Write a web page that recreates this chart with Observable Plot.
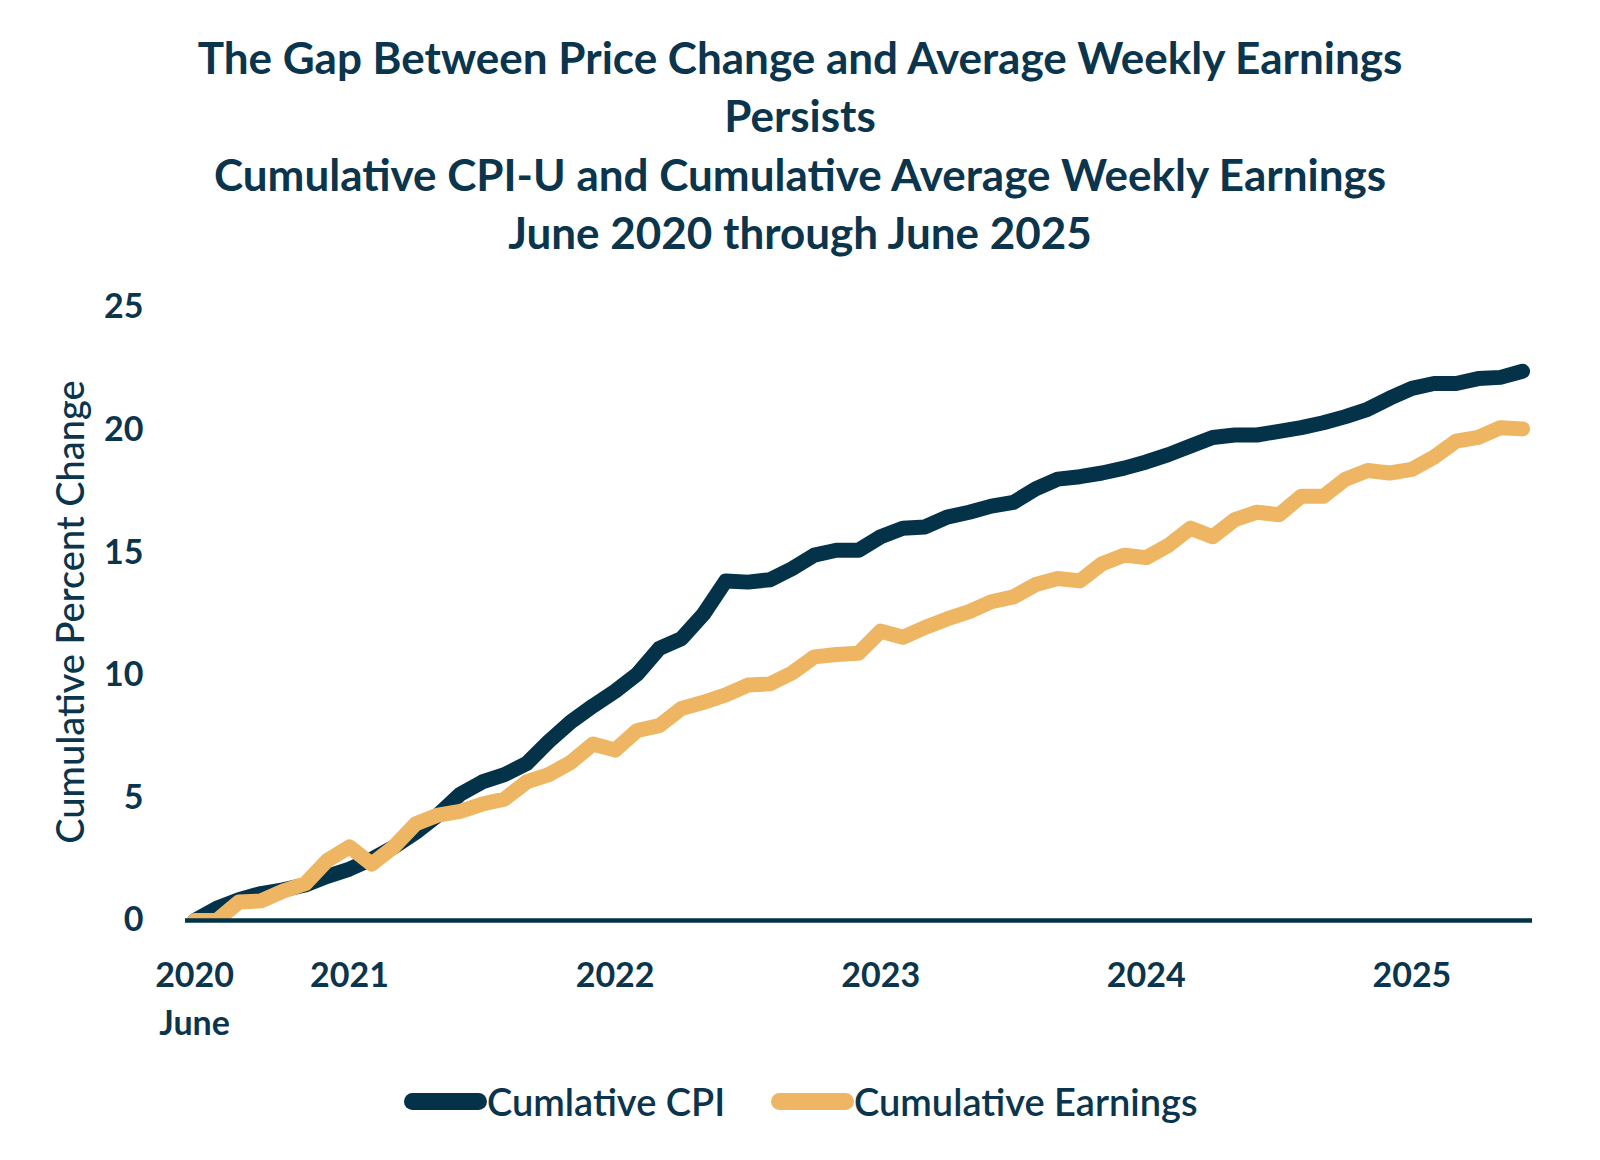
<!DOCTYPE html>
<html>
<head>
<meta charset="utf-8">
<script src="https://cdn.jsdelivr.net/npm/d3@7"></script>
<script src="https://cdn.jsdelivr.net/npm/@observablehq/plot@0.6"></script>
<style>
  body { margin: 0; background: #ffffff; }
  #wrap { position: relative; width: 1600px; height: 1160px; font-family: Lato, "Open Sans", sans-serif; color: #0b344d; overflow: hidden; }
  #title { position: absolute; top: 28px; left: 0; width: 1600px; text-align: center; font-weight: 700; font-size: 44px; line-height: 58.3px; }
  #chart { position: absolute; top: 270px; left: 0; }
  #ylabel { position: absolute; left: 69px; top: 612px; transform: translate(-50%, -50%) rotate(-90deg); white-space: nowrap; font-size: 38px; font-weight: 500; }
  .leg { position: absolute; top: 1079px; display: flex; align-items: center; font-size: 38px; font-weight: 600; white-space: nowrap; height: 44px; }
  .sw { display: inline-block; width: 83px; height: 17px; border-radius: 9px; margin-right: 0px; }
</style>
</head>
<body>
<div id="wrap">
  <div id="title"></div>
  <div id="ylabel"></div>
  <div id="chart"></div>
  <div id="legend"></div>
</div>
<script>
// ---- Data ----
const titleLines = [
  "The Gap Between Price Change and Average Weekly Earnings",
  "Persists",
  "Cumulative CPI-U and Cumulative Average Weekly Earnings",
  "June 2020 through June 2025"
];
const yAxisTitle = "Cumulative Percent Change";
const seriesNames = ["Cumlative CPI", "Cumulative Earnings"];
const seriesColors = ["#033249", "#eeb662"];

// Monthly categories, June 2020 .. June 2025
const months = d3.utcMonth.range(new Date(Date.UTC(2020, 5, 1)), new Date(Date.UTC(2025, 6, 1)));

const cumulativeCPI = [
  0, 0.5, 0.85, 1.1, 1.25, 1.45, 1.8,
  2.1, 2.5, 3.0, 3.6, 4.3, 5.15, 5.65, 5.95, 6.4, 7.3, 8.1, 8.75,
  9.35, 10.05, 11.1, 11.5, 12.5, 13.85, 13.8, 13.9, 14.35, 14.9, 15.1, 15.1,
  15.65, 16.0, 16.05, 16.45, 16.65, 16.9, 17.05, 17.6, 18.0, 18.1, 18.25, 18.45,
  18.7, 19.0, 19.35, 19.7, 19.8, 19.8, 19.95, 20.1, 20.3, 20.55, 20.85, 21.3,
  21.7, 21.9, 21.9, 22.1, 22.15, 22.4
];
const cumulativeEarnings = [
  0, 0, 0.75, 0.8, 1.2, 1.5, 2.45,
  3.0, 2.3, 3.0, 3.95, 4.3, 4.45, 4.75, 4.95, 5.65, 5.95, 6.45, 7.2,
  6.95, 7.75, 7.95, 8.65, 8.9, 9.2, 9.6, 9.65, 10.1, 10.75, 10.85, 10.9,
  11.8, 11.55, 11.95, 12.3, 12.6, 13.0, 13.2, 13.7, 13.95, 13.85, 14.55, 14.9,
  14.8, 15.3, 16.0, 15.65, 16.35, 16.65, 16.55, 17.3, 17.3, 18.0, 18.35, 18.25,
  18.4, 18.9, 19.55, 19.7, 20.1, 20.05
];

const yTicks = [0, 5, 10, 15, 20, 25];
const xTickMonths = ["2020-06", "2021-01", "2022-01", "2023-01", "2024-01", "2025-01"];
const xTickLabels = ["2020\nJune", "2021", "2022", "2023", "2024", "2025"];

// ---- Build table ----
const fmtMonth = d3.utcFormat("%Y-%m");
const monthKeys = months.map(fmtMonth);
const rows = months.map((m, i) => ({ i, month: m, cpi: cumulativeCPI[i], earn: cumulativeEarnings[i] }));
const tickIndex = xTickMonths.map(k => monthKeys.indexOf(k));
const tickLabelByIndex = new Map(tickIndex.map((idx, j) => [idx, xTickLabels[j]]));

// ---- Text ----
document.getElementById("title").innerHTML = titleLines.map(t => `<div>${t}</div>`).join("");
document.getElementById("ylabel").textContent = yAxisTitle;
const legendLefts = [404, 771];
document.getElementById("legend").innerHTML = seriesNames.map((n, k) =>
  `<div class="leg" style="left:${legendLefts[k]}px"><span class="sw" style="background:${seriesColors[k]}"></span><span>${n}</span></div>`
).join("");

// ---- Chart ----
const navy = "#0b344d";
const chart = Plot.plot({
  width: 1600,
  height: 760,
  marginLeft: 185,
  marginRight: 68,
  marginTop: 37,
  marginBottom: 110,
  style: { fontFamily: "Lato, 'Open Sans', sans-serif", color: navy, background: "transparent", overflow: "visible" },
  x: { domain: [-0.41, 60.45] },
  y: { domain: [0, 25] },
  marks: [
    Plot.axisY({ ticks: yTicks, tickSize: 0, tickPadding: 42, fontSize: 34, fontWeight: "bold", label: null }),
    Plot.axisX({ ticks: tickIndex, tickFormat: d => tickLabelByIndex.get(d), tickSize: 0, tickPadding: 33, fontSize: 34, fontWeight: "bold", label: null, lineHeight: 1.4 }),
    Plot.lineY(rows, { x: "i", y: "cpi", stroke: seriesColors[0], strokeWidth: 15, clip: true }),
    Plot.lineY(rows, { x: "i", y: "earn", stroke: seriesColors[1], strokeWidth: 15, clip: true }),
    Plot.ruleY([0], { stroke: seriesColors[0], strokeWidth: 4.5 })
  ]
});
document.getElementById("chart").appendChild(chart);
</script>
</body>
</html>
